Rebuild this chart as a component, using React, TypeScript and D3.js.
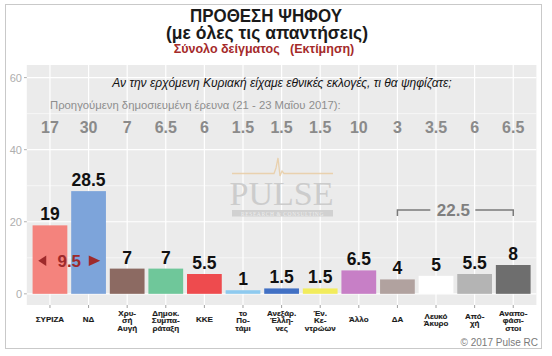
import React from "react";
import * as d3 from "d3";

const categories = ["ΣΥΡΙΖΑ","ΝΔ","Χρυσή Αυγή","Δημοκ. Συμπαράταξη","ΚΚΕ","Το Ποτάμι","Ανεξάρ. Έλληνες","Ένωση Κεντρώων","Άλλο","ΔΑ","Λευκό Άκυρο","Αποχή","Αναποφάσιστοι"];
const axisLabels = [["ΣΥΡΙΖΑ"],["ΝΔ"],["Χρυ-","σή","Αυγή"],["Δημοκ.","Συμπα-","ράταξη"],["ΚΚΕ"],["το","Πο-","τάμι"],["Ανεξάρ.","Έλλη-","νες"],["Έν.","Κε-","ντρώων"],["Άλλο"],["ΔΑ"],["Λευκό","Άκυρο"],["Από-","χή"],["Αναπο-","φάσι-","στοι"]];
const values = [19, 28.5, 7, 7, 5.5, 1, 1.5, 1.5, 6.5, 4, 5, 5.5, 8];
const previous = ["17","30","7","6.5","6","1.5","1.5","1.5","10","3","3.5","6","6.5"];
const colors = ["#F4837D","#7DA4DA","#8C6A62","#6FC79A","#EE4B4E","#8ECAEF","#4170C4","#F2EC5C","#C77FC6","#B1A29F","#FFFFFF","#B4B4B4","#6E6E6E"];
const yTicks = [0, 20, 40, 60];
const yMinor = [10, 30, 50];
const gapValue = "9.5";
const bracketValue = "22.5";
const bracketFrom = "ΔΑ";
const bracketTo = "Αναποφάσιστοι";

const W = 552, H = 356;
const panel = { left: 26.8, right: 536.4, top: 65, bottom: 305 };
const FONT = "'Liberation Sans', Arial, sans-serif";

export default function App() {
  const x = d3.scalePoint<string>().domain(categories).range([panel.left, panel.right]).padding(0.6);
  const step = x.step();
  const bw = step * 0.9;
  const y = d3.scaleLinear().domain([-3.1, 63.5]).range([panel.bottom, panel.top]);
  const redDark = "#9E2A2B";
  const midGap = ((x(categories[0]) as number) + (x(categories[1]) as number)) / 2;
  const bx1 = x(bracketFrom) as number;
  const bx2 = x(bracketTo) as number;
  const by = 210;
  const bmid = (bx1 + bx2) / 2;
  const lineGap = 7.7;

  return (
    <svg width={W} height={H} style={{ position: "fixed", left: 0, top: 0, background: "#fff" }} fontFamily={FONT}>
      <rect x={0} y={0} width={W} height={H} fill="#fff" />
      <rect x={5.5} y={4.5} width={536} height={344} fill="#fff" stroke="#C9C9C9" strokeWidth={1} />
      {/* titles */}
      <text x={190} y={21.8} fontSize={18} fontWeight="bold" fill="#1a1a1a" textLength={152} lengthAdjust="spacingAndGlyphs">ΠΡΟΘΕΣΗ ΨΗΦΟΥ</text>
      <text x={166} y={38.5} fontSize={17.5} fontWeight="bold" fill="#1a1a1a" textLength={202} lengthAdjust="spacingAndGlyphs">(με όλες τις απαντήσεις)</text>
      <text x={264} y={53} textAnchor="middle" fontSize={12.5} fontWeight="bold" fill="#A52A2A" xmlSpace="preserve">Σύνολο δείγματος   (Εκτίμηση)</text>
      {/* panel */}
      <rect x={panel.left} y={panel.top} width={panel.right - panel.left} height={panel.bottom - panel.top} fill="#EBEBEB" />
      {yMinor.map((t) => (
        <line key={"m" + t} x1={panel.left} x2={panel.right} y1={y(t)} y2={y(t)} stroke="#fff" strokeWidth={0.6} />
      ))}
      {yTicks.map((t) => (
        <line key={"g" + t} x1={panel.left} x2={panel.right} y1={y(t)} y2={y(t)} stroke="#fff" strokeWidth={1.2} />
      ))}
      {categories.map((c) => (
        <line key={"v" + c} x1={x(c)} x2={x(c)} y1={panel.top} y2={panel.bottom} stroke="#fff" strokeWidth={1.2} />
      ))}
      {/* y axis */}
      {yTicks.map((t) => (
        <g key={"yt" + t}>
          <line x1={24} x2={26.8} y1={y(t)} y2={y(t)} stroke="#B0B0B0" strokeWidth={1} />
          <text x={22} y={y(t) + 4} textAnchor="end" fontSize={11} fill="#AEAEAE">{t}</text>
        </g>
      ))}
      {/* watermark */}
      <g opacity={0.9}>
        <path d="M232,173.5 L274,173.5 L276,168 L278,158 L280,176 L282,171 L284,173.5 L333,173.5" fill="none" stroke="#E9CFA8" strokeWidth={1.3} />
        <text x={281.5} y={205} textAnchor="middle" fontSize={34} fill="#C9C9C9" fontFamily="'Liberation Serif', 'DejaVu Serif', serif">PULSE</text>
        <rect x={232} y={210} width={101} height={6.5} fill="#CFCFCF" />
        <text x={282.5} y={215.5} textAnchor="middle" fontSize={5.5} fill="#EEEEEE" fontFamily="'Liberation Serif', serif" letterSpacing={0.6}>RESEARCH &amp; CONSULTING</text>
      </g>
      {/* question */}
      <text x={282} y={86.5} textAnchor="middle" fontSize={12} fontStyle="italic" fill="#111">Αν την ερχόμενη Κυριακή είχαμε εθνικές εκλογές, τι θα ψηφίζατε;</text>
      <text x={50} y={108.5} fontSize={11.3} fill="#8E8E8E">Προηγούμενη δημοσιευμένη έρευνα (21 - 23 Μαΐου 2017):</text>
      {previous.map((p, i) => (
        <text key={"p" + i} x={x(categories[i])} y={133} textAnchor="middle" fontSize={16} fontWeight="bold" fill="#8A8A8A">{p}</text>
      ))}
      {/* bars */}
      {categories.map((c, i) => (
        <rect key={"b" + c} x={(x(c) as number) - bw / 2} y={y(values[i])} width={bw} height={y(0) - y(values[i])} fill={colors[i]} />
      ))}
      {categories.map((c, i) => (
        <text key={"l" + c} x={x(c)} y={y(values[i]) - 5} textAnchor="middle" fontSize={17.5} fontWeight="bold" fill="#111">{values[i]}</text>
      ))}
      {/* gap annotation */}
      <path d={`M${midGap - 31},${260.7} L${midGap - 23},${255.5} L${midGap - 23},${265.9} Z`} fill={redDark} />
      <path d={`M${midGap + 31},${260.7} L${midGap + 19.5},${255.5} L${midGap + 19.5},${265.9} Z`} fill={redDark} />
      <text x={midGap} y={266.8} textAnchor="middle" fontSize={17} fontWeight="bold" fill={redDark}>{gapValue}</text>
      {/* bracket */}
      <path d={`M${bx1},${by + 6} L${bx1},${by} L${bmid - 25},${by}`} fill="none" stroke="#7A7A7A" strokeWidth={1.5} />
      <path d={`M${bmid + 20},${by} L${bx2},${by} L${bx2},${by + 6}`} fill="none" stroke="#7A7A7A" strokeWidth={1.5} />
      <text x={bmid - 2} y={by + 6} textAnchor="middle" fontSize={17} fontWeight="bold" fill="#7F7F7F">{bracketValue}</text>
      {/* x axis */}
      {categories.map((c, i) => {
        const n = axisLabels[i].length;
        return (
          <g key={"x" + c}>
            <line x1={x(c)} x2={x(c)} y1={panel.bottom} y2={panel.bottom + 3} stroke="#A0A0A0" strokeWidth={1} />
            {axisLabels[i].map((line, k) => (
              <text key={k} x={x(c)} y={322 + (k - (n - 1) / 2) * lineGap + (n - 1) * 0.6} textAnchor="middle" fontSize={8} fontWeight="bold" fill="#1a1a1a" stroke="#1a1a1a" strokeWidth={0.15}>{line}</text>
            ))}
          </g>
        );
      })}
      <text x={538} y={345.5} textAnchor="end" fontSize={10} fill="#7A7A7A">© 2017 Pulse RC</text>
    </svg>
  );
}
